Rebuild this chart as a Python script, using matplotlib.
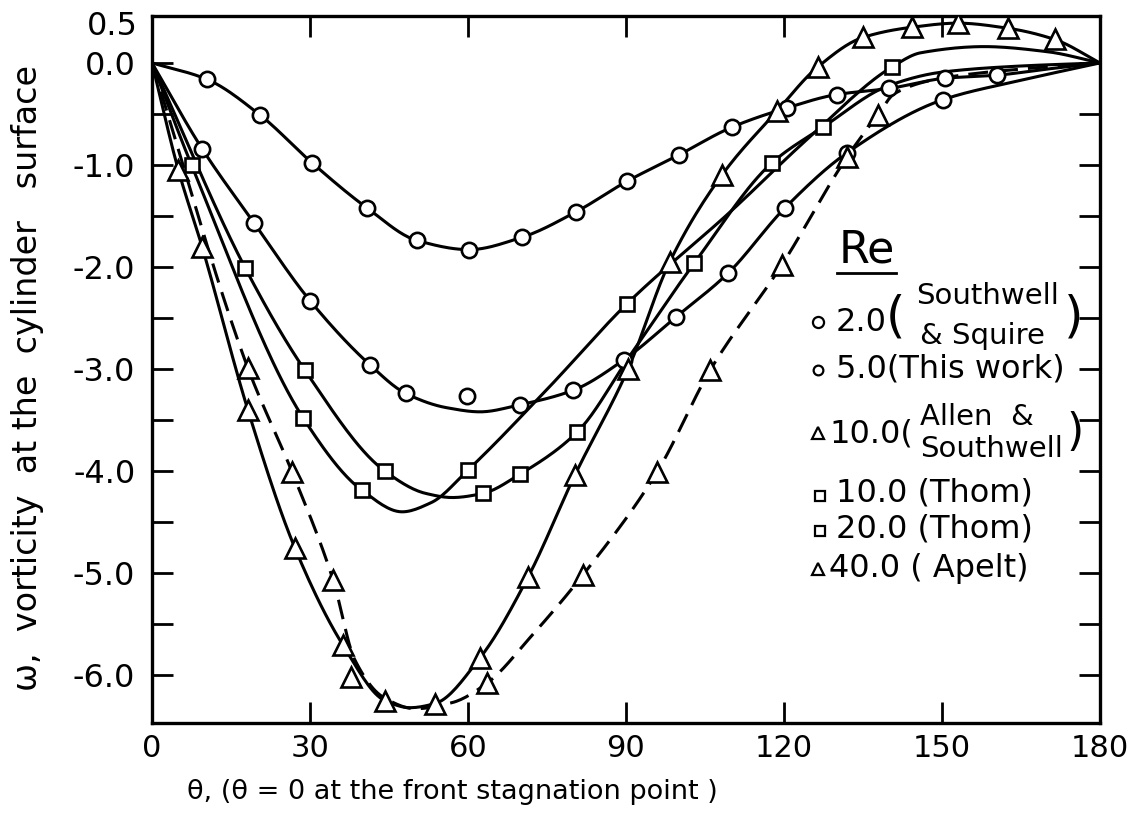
import numpy as np
import matplotlib
matplotlib.use("Agg")
import matplotlib.pyplot as plt
from matplotlib.lines import Line2D

plt.rcParams['font.family'] = ['DejaVu Sans']

# ---- data (theta in degrees, omega) ----
# Re = 2.0 (Southwell & Squire), circles
re2_th = [10.4, 20.5, 30.4, 40.8, 50.3, 60.2, 70.2, 80.5, 90.2, 100.1, 110.1, 120.6, 130.0, 140.0, 150.6, 160.4]
re2_w = [-0.16, -0.51, -0.98, -1.42, -1.74, -1.83, -1.71, -1.46, -1.16, -0.90, -0.63, -0.44, -0.31, -0.25, -0.15, -0.12]
re2_line_th = [0, 10.4, 20.5, 30.4, 40.8, 50.3, 60.2, 70.2, 80.5, 90.2, 100.1, 110.1, 120.6, 130.0, 140.0, 150.6, 160.4, 170, 180]
re2_line_w = [0, -0.16, -0.51, -0.98, -1.42, -1.74, -1.83, -1.71, -1.46, -1.16, -0.90, -0.63, -0.44, -0.31, -0.25, -0.15, -0.12, -0.06, 0]

# Re = 5.0 (this work), small circles
re5_th = [9.5, 19.4, 30.0, 41.4, 48.2, 59.8, 69.9, 79.9, 89.6, 99.5, 109.4, 120.2, 132.0, 150.2]
re5_w = [-0.84, -1.57, -2.33, -2.96, -3.24, -3.26, -3.35, -3.21, -2.91, -2.49, -2.06, -1.42, -0.88, -0.36]
re5_line_th = [0, 9.5, 19.4, 30.0, 41.4, 48.2, 56, 62.3, 69.9, 79.9, 89.6, 99.5, 109.4, 120.2, 132.0, 150.2, 165, 180]
re5_line_w = [0, -0.84, -1.57, -2.33, -2.96, -3.24, -3.38, -3.42, -3.35, -3.21, -2.91, -2.49, -2.06, -1.42, -0.88, -0.36, -0.17, 0]

# Re = 10.0 (Allen & Southwell), triangles, dashed
as10_th = [18.2, 26.6, 34.4, 37.8, 63.6, 81.8, 95.9, 106.0, 119.6, 132.0, 137.8]
as10_w = [-2.99, -4.01, -5.07, -6.02, -6.08, -5.02, -4.01, -3.01, -1.98, -0.92, -0.51]
as10_line_th = [0, 18.2, 26.6, 34.4, 38.5, 44, 50, 57, 63.6, 72, 81.8, 95.9, 106.0, 119.6, 132.0, 137.8, 141, 150, 165, 180]
as10_line_w = [0, -2.99, -4.01, -5.07, -5.85, -6.22, -6.33, -6.27, -6.08, -5.62, -5.02, -4.01, -3.01, -1.98, -0.92, -0.51, -0.30, -0.15, -0.06, 0]

# Re = 10.0 (Thom), squares
th10_th = [17.7, 29.0, 44.2, 62.8, 69.9, 80.7, 103.0, 117.7, 127.4]
th10_w = [-2.01, -3.01, -4.00, -4.22, -4.03, -3.62, -1.96, -0.98, -0.63]
th10_line_th = [0, 17.7, 29.0, 44.2, 52, 57, 62.8, 69.9, 80.7, 91, 103.0, 117.7, 127.4, 140, 150, 165, 180]
th10_line_w = [0, -2.01, -3.01, -4.00, -4.22, -4.26, -4.22, -4.03, -3.62, -2.85, -1.96, -0.98, -0.63, -0.22, -0.09, -0.03, 0]

# Re = 20.0 (Thom), squares
th20_th = [7.5, 28.7, 39.9, 60.0, 90.2, 140.5]
th20_w = [-1.00, -3.48, -4.19, -3.99, -2.36, -0.04]
th20_line_th = [0, 7.5, 28.7, 39.9, 47.5, 53, 60.0, 75, 90.2, 110, 125, 140.5, 146, 158, 170, 180]
th20_line_w = [0, -1.00, -3.48, -4.19, -4.40, -4.31, -3.99, -3.20, -2.36, -1.45, -0.72, -0.04, 0.10, 0.16, 0.11, 0]

# Re = 40.0 (Apelt), triangles
ap40_th = [5.0, 9.5, 18.2, 27.1, 36.3, 44.2, 53.7, 62.3, 71.4, 80.3, 90.4, 98.3, 108.2, 118.7, 126.4, 135.0, 144.3, 153.0, 162.5, 171.4]
ap40_w = [-1.05, -1.80, -3.40, -4.75, -5.71, -6.25, -6.28, -5.83, -5.04, -4.04, -3.00, -1.95, -1.10, -0.47, -0.04, 0.25, 0.35, 0.39, 0.34, 0.23]
ap40_line_th = [0, 5.0, 9.5, 18.2, 27.1, 36.3, 44.2, 49, 53.7, 62.3, 71.4, 80.3, 90.4, 98.3, 108.2, 118.7, 126.4, 135.0, 144.3, 153.0, 162.5, 171.4, 180]
ap40_line_w = [0, -1.05, -1.80, -3.40, -4.75, -5.71, -6.25, -6.32, -6.28, -5.83, -5.04, -4.04, -3.00, -1.95, -1.10, -0.47, -0.04, 0.25, 0.35, 0.39, 0.34, 0.23, 0]

ytick_vals = [0, -1, -2, -3, -4, -5, -6]
ytick_labels = ['0.0', '-1.0', '-2.0', '-3.0', '-4.0', '-5.0', '-6.0']
xtick_vals = [0, 30, 60, 90, 120, 150, 180]


def pchip(x, y, n=400):
    # shape preserving cubic through the read points (just for a smooth pen line)
    x = np.asarray(x, float)
    y = np.asarray(y, float)
    h = np.diff(x)
    d = np.diff(y) / h
    m = np.zeros_like(y)
    m[0], m[-1] = d[0], d[-1]
    for k in range(1, len(x) - 1):
        if d[k - 1] * d[k] > 0:
            w1 = 2 * h[k] + h[k - 1]
            w2 = h[k] + 2 * h[k - 1]
            m[k] = (w1 + w2) / (w1 / d[k - 1] + w2 / d[k])
    xn = np.linspace(x[0], x[-1], n)
    i = np.clip(np.searchsorted(x, xn) - 1, 0, len(x) - 2)
    t = (xn - x[i]) / h[i]
    h00 = 2 * t**3 - 3 * t**2 + 1
    h10 = t**3 - 2 * t**2 + t
    h01 = -2 * t**3 + 3 * t**2
    h11 = t**3 - t**2
    yn = h00 * y[i] + h10 * h[i] * m[i] + h01 * y[i + 1] + h11 * h[i] * m[i + 1]
    return xn, yn


W, H = 1142, 832
fig = plt.figure(figsize=(W / 100, H / 100), dpi=100)
ax = fig.add_axes([152 / W, 1 - 723 / H, (1100 - 152) / W, (723 - 16) / H])

lw = 2.2
mew = 1.9
series = [
    (re2_line_th, re2_line_w, re2_th, re2_w, 'o', 11, '-'),
    (re5_line_th, re5_line_w, re5_th, re5_w, 'o', 11, '-'),
    (th10_line_th, th10_line_w, th10_th, th10_w, 's', 10, '-'),
    (th20_line_th, th20_line_w, th20_th, th20_w, 's', 10, '-'),
    (ap40_line_th, ap40_line_w, ap40_th, ap40_w, '^', 14, '-'),
    (as10_line_th, as10_line_w, as10_th, as10_w, '^', 14, '--'),
]
for lth, lw_, mth, mw, mk, ms, ls in series:
    xs, ys = pchip(lth, lw_)
    line, = ax.plot(xs, ys, color='black', lw=lw, ls=ls, zorder=2)
    if ls == '--':
        line.set_dashes((6.5, 3.3))
    ax.plot(mth, mw, ls='none', marker=mk, ms=ms, mfc='white', mec='black', mew=mew, zorder=3)

ax.set_xlim(0, 180)
ax.set_ylim(-6.47, 0.46)
ax.set_xticks(xtick_vals)
ax.set_xticklabels(['0', '30', '60', '90', '120', '150', '180'])
ax.set_yticks(ytick_vals)
ax.set_yticklabels(ytick_labels)
ax.set_yticks(np.arange(-6.0, 0.01, 0.5), minor=True)
ax.tick_params(axis='both', which='both', direction='in', length=15, width=2,
               top=True, right=True)
ax.tick_params(axis='y', which='major', pad=12, labelsize=23)
ax.tick_params(axis='x', which='major', pad=8, labelsize=22)
for s in ax.spines.values():
    s.set_linewidth(2.4)

# 0.5 label at the top of the axis
ax.text(-2.8, 0.36, '0.5', ha='right', va='center', fontsize=23, clip_on=False)


def fx(x):
    return x / W


def fy(y):
    return 1 - y / H


# axis titles
fig.text(fx(28), fy(378), 'ω,  vorticity  at the  cylinder   surface', rotation=90,
         ha='center', va='center', fontsize=24)
fig.text(fx(452), fy(792), 'θ, (θ = 0 at the front stagnation point )',
         ha='center', va='center', fontsize=19.5)

# hand lettered key
fig.text(fx(867), fy(250), 'Re', ha='center', va='center', fontsize=32)
fig.add_artist(Line2D([fx(837), fx(896)], [fy(273), fy(273)], color='black', lw=2))


def key_marker(x, y, mk, ms):
    fig.add_artist(Line2D([fx(x)], [fy(y)], marker=mk, ms=ms, mfc='white', mec='black',
                          mew=1.6, ls='none'))


key_marker(818, 322, 'o', 8)
fig.text(fx(836), fy(322), '2.0', ha='left', va='center', fontsize=23)
fig.text(fx(886), fy(318), '(', ha='left', va='center', fontsize=36)
fig.text(fx(916), fy(296), 'Southwell', ha='left', va='center', fontsize=21)
fig.text(fx(920), fy(336), '& Squire', ha='left', va='center', fontsize=21)
fig.text(fx(1064), fy(318), ')', ha='left', va='center', fontsize=36)

key_marker(818, 370, 'o', 7)
fig.text(fx(836), fy(369), '5.0(This work)', ha='left', va='center', fontsize=23)

key_marker(818, 433, '^', 9)
fig.text(fx(829), fy(434), '10.0(', ha='left', va='center', fontsize=23)
fig.text(fx(920), fy(417), 'Allen  &', ha='left', va='center', fontsize=21)
fig.text(fx(920), fy(449), 'Southwell', ha='left', va='center', fontsize=21)
fig.text(fx(1066), fy(432), ')', ha='left', va='center', fontsize=32)

key_marker(820, 496, 's', 7)
fig.text(fx(836), fy(493), '10.0 (Thom)', ha='left', va='center', fontsize=23)
key_marker(820, 531, 's', 7)
fig.text(fx(836), fy(529), '20.0 (Thom)', ha='left', va='center', fontsize=23)
key_marker(818, 569, '^', 9)
fig.text(fx(829), fy(569), '40.0 ( Apelt)', ha='left', va='center', fontsize=23)

fig.savefig('out.png', dpi=100)
